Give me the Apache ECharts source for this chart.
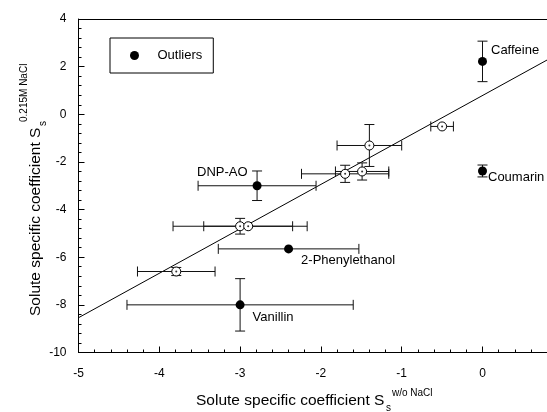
<!DOCTYPE html>
<html>
<head>
<meta charset="utf-8">
<script src="https://cdn.jsdelivr.net/npm/echarts@6/dist/echarts.min.js"></script>
<style>
  html, body { margin: 0; padding: 0; background: #fff; }
  #chart { width: 547px; height: 412px; }
</style>
</head>
<body>
<div id="chart"></div>
<script>
// Outlying solutes (filled markers, labelled)
const outlierNames = ['Caffeine', 'Coumarin', 'DNP-AO', '2-Phenylethanol', 'Vanillin'];
const outlierX     = [0.00, 0.00, -2.79, -2.40, -3.00];
const outlierY     = [2.22, -2.38, -3.00, -5.65, -8.00];
const outlierXErr  = [0.00, 0.00, 0.73, 0.87, 1.40];
const outlierYErr  = [0.85, 0.25, 0.62, 0.00, 1.10];

// Remaining solutes (open markers)
const soluteX    = [-0.50, -1.40, -1.70, -1.49, -3.00, -2.90, -3.79];
const soluteY    = [-0.51, -1.31, -2.50, -2.40, -4.70, -4.70, -6.60];
const soluteXErr = [0.14, 0.40, 0.54, 0.33, 0.83, 0.55, 0.48];
const soluteYErr = [0.00, 0.88, 0.36, 0.36, 0.33, 0.00, 0.17];

// Linear fit through the non-outlying solutes
const fitX = [-5, 0.8];
const fitY = [-8.54, 2.28];

// Axis ranges
const xRange = [-5, 1];
const yRange = [-10, 4];

const FONT = '"Liberation Sans", Arial, Helvetica, sans-serif';

// label placement for the named outliers (pixel offsets)
const labelPlacement = {
  'Caffeine':        { position: 'right', offset: [4, -11] },
  'Coumarin':        { position: 'right', offset: [1, 6] },
  'DNP-AO':          { position: 'left',  offset: [-5, -13] },
  '2-Phenylethanol': { position: 'right', offset: [8, 12] },
  'Vanillin':        { position: 'right', offset: [8, 13] }
};

const errData = [];
outlierX.forEach((x, i) => errData.push([x, outlierY[i], outlierXErr[i], outlierYErr[i]]));
soluteX.forEach((x, i) => errData.push([x, soluteY[i], soluteXErr[i], soluteYErr[i]]));

const CAP = 5;
function renderErrorBar(params, api) {
  const x = api.value(0), y = api.value(1), ex = api.value(2), ey = api.value(3);
  const children = [];
  const style = { stroke: '#111', lineWidth: 1, fill: null };
  if (ex > 0) {
    const l = api.coord([x - ex, y]);
    const r = api.coord([x + ex, y]);
    children.push({ type: 'line', shape: { x1: l[0], y1: l[1], x2: r[0], y2: r[1] }, style });
    children.push({ type: 'line', shape: { x1: l[0], y1: l[1] - CAP, x2: l[0], y2: l[1] + CAP }, style });
    children.push({ type: 'line', shape: { x1: r[0], y1: r[1] - CAP, x2: r[0], y2: r[1] + CAP }, style });
  }
  if (ey > 0) {
    const t = api.coord([x, y + ey]);
    const b = api.coord([x, y - ey]);
    children.push({ type: 'line', shape: { x1: t[0], y1: t[1], x2: b[0], y2: b[1] }, style });
    children.push({ type: 'line', shape: { x1: t[0] - CAP, y1: t[1], x2: t[0] + CAP, y2: t[1] }, style });
    children.push({ type: 'line', shape: { x1: b[0] - CAP, y1: b[1], x2: b[0] + CAP, y2: b[1] }, style });
  }
  return { type: 'group', children };
}

const outlierData = outlierNames.map((name, i) => ({
  name,
  value: [outlierX[i], outlierY[i]],
  label: Object.assign({ show: true, formatter: name, distance: 0 }, labelPlacement[name])
}));
const soluteData = soluteX.map((x, i) => [x, soluteY[i]]);

const axisCommon = {
  type: 'value',
  axisLine: { show: true, onZero: false, lineStyle: { color: '#000', width: 1 } },
  axisTick: { show: true, inside: true, length: 6, lineStyle: { color: '#000' } },
  minorTick: { show: true, splitNumber: 5, length: 3, lineStyle: { color: '#000' } },
  splitLine: { show: false },
  axisLabel: { color: '#000', fontFamily: FONT, fontSize: 12 }
};

const chart = echarts.init(document.getElementById('chart'), null, { renderer: 'canvas' });
chart.setOption({
  animation: false,
  backgroundColor: '#fff',
  // the frame runs past the right edge of the page
  grid: { left: 78.5, top: 19, width: 484.8, height: 333.5, containLabel: false, outerBoundsMode: 'none' },
  xAxis: [
    Object.assign({}, axisCommon, {
      min: xRange[0], max: xRange[1], interval: 1,
      axisLabel: Object.assign({}, axisCommon.axisLabel, { margin: 15, showMaxLabel: false })
    }),
    {
      type: 'value', position: 'top', min: xRange[0], max: xRange[1],
      axisLine: { show: true, onZero: false, lineStyle: { color: '#000', width: 1 } },
      axisTick: { show: false }, axisLabel: { show: false }, splitLine: { show: false }
    }
  ],
  yAxis: Object.assign({}, axisCommon, {
    min: yRange[0], max: yRange[1], interval: 2,
    axisLabel: Object.assign({}, axisCommon.axisLabel, { margin: 12 })
  }),
  legend: {
    data: ['Outliers'],
    left: 110, top: 38,
    padding: [11, 11, 11, 20],
    itemWidth: 36, itemHeight: 9,
    borderColor: '#000', borderWidth: 1, borderRadius: 0,
    textStyle: { color: '#000', fontFamily: FONT, fontSize: 13 },
    selectedMode: false
  },
  series: [
    {
      name: 'fit', type: 'line', data: fitX.map((x, i) => [x, fitY[i]]),
      symbol: 'none', lineStyle: { color: '#000', width: 1 }, z: 2, silent: true
    },
    {
      name: 'error', type: 'custom', renderItem: renderErrorBar, data: errData,
      encode: { x: 0, y: 1 }, z: 3, silent: true
    },
    {
      name: 'Solutes', type: 'scatter', data: soluteData, symbol: 'circle', symbolSize: 9,
      itemStyle: { color: '#fff', borderColor: '#000', borderWidth: 1, opacity: 1 }, z: 4, silent: true
    },
    {
      name: 'centre', type: 'scatter', data: soluteData, symbol: 'circle', symbolSize: 2,
      itemStyle: { color: '#000' }, z: 5, silent: true
    },
    {
      name: 'Outliers', type: 'scatter', data: outlierData, symbol: 'circle', symbolSize: 9,
      itemStyle: { color: '#000', opacity: 1 }, z: 5, silent: true,
      label: { color: '#000', fontFamily: FONT, fontSize: 13 }
    }
  ],
  graphic: [
    { type: 'text', x: 196, y: 400.5, silent: true, style: { text: 'Solute specific coefficient S', font: '15.5px ' + FONT, fill: '#000', align: 'left', verticalAlign: 'middle' } },
    { type: 'text', x: 386, y: 408, silent: true, style: { text: 's', font: '10px ' + FONT, fill: '#000', align: 'left', verticalAlign: 'middle' } },
    { type: 'text', x: 392, y: 393, silent: true, style: { text: 'w/o NaCl', font: '10px ' + FONT, fill: '#000', align: 'left', verticalAlign: 'middle' } },
    {
      type: 'group', x: 36, y: 316, rotation: Math.PI / 2, silent: true,
      children: [
        { type: 'text', x: 0, y: 0, style: { text: 'Solute specific coefficient S', font: '15.5px ' + FONT, fill: '#000', align: 'left', verticalAlign: 'middle' } },
        { type: 'text', x: 190, y: 7.5, style: { text: 's', font: '10px ' + FONT, fill: '#000', align: 'left', verticalAlign: 'middle' } },
        { type: 'text', x: 194, y: -12, style: { text: '0.215M NaCl', font: '10px ' + FONT, fill: '#000', align: 'left', verticalAlign: 'middle' } }
      ]
    }
  ]
});
</script>
</body>
</html>
